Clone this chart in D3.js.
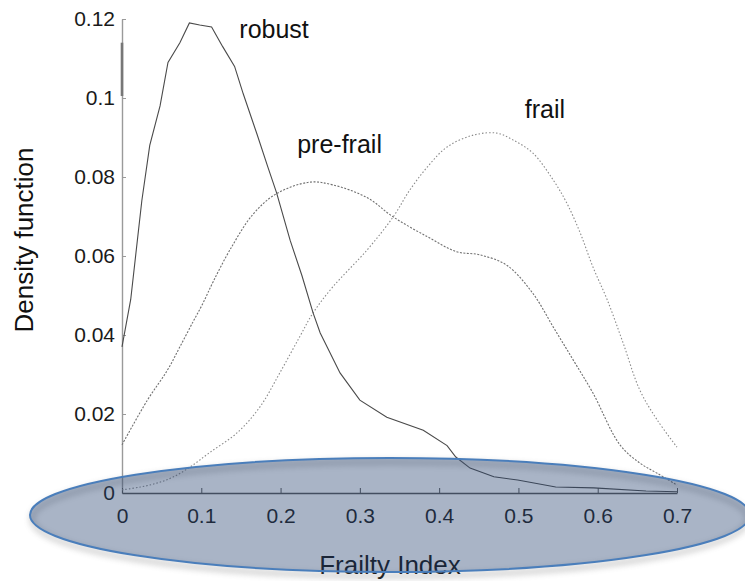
<!DOCTYPE html>
<html>
<head>
<meta charset="utf-8">
<script src="https://cdn.jsdelivr.net/npm/d3@7"></script>
<style>
  html,body{margin:0;padding:0;background:#fff;}
  svg{display:block;font-family:"Liberation Sans",Arial,Helvetica,sans-serif;}
</style>
</head>
<body>
<svg id="chart" width="745" height="581"></svg>
<script>
'use strict';

// values
var robustX=[0,0.011,0.025,0.035,0.048,0.058,0.073,0.085,0.098,0.113,0.127,0.142,0.153,0.170,0.184,0.195,0.212,0.227,0.241,0.250,0.275,0.300,0.334,0.380,0.410,0.421,0.439,0.469,0.499,0.547,0.595,0.661,0.700]
  , robustY=[0.037,0.049,0.074,0.088,0.098,0.109,0.114,0.119,0.1185,0.118,0.113,0.108,0.101,0.091,0.0825,0.076,0.064,0.055,0.0456,0.0405,0.0304,0.0235,0.0192,0.0159,0.012,0.0091,0.0063,0.0041,0.0033,0.0015,0.0013,0.0005,0.0003]
  , preX=[0,0.032,0.057,0.073,0.090,0.102,0.115,0.136,0.165,0.195,0.237,0.266,0.309,0.342,0.385,0.422,0.451,0.485,0.518,0.544,0.569,0.594,0.628,0.653,0.675,0.700]
  , preY=[0.0122,0.0235,0.031,0.037,0.0435,0.048,0.0535,0.0615,0.0705,0.0758,0.0787,0.078,0.0748,0.0699,0.0649,0.0611,0.0603,0.0577,0.0506,0.042,0.0337,0.0253,0.0122,0.0076,0.005,0.002]
  , frailX=[0,0.023,0.044,0.064,0.086,0.111,0.145,0.174,0.199,0.224,0.241,0.266,0.309,0.342,0.363,0.385,0.410,0.443,0.473,0.493,0.518,0.544,0.561,0.578,0.594,0.612,0.632,0.653,0.675,0.700]
  , frailY=[0.0008,0.0015,0.0025,0.004,0.0066,0.0103,0.0152,0.0218,0.0304,0.0395,0.0456,0.0522,0.0615,0.0699,0.0767,0.0825,0.0876,0.0906,0.0911,0.0894,0.0861,0.0792,0.0734,0.0658,0.0572,0.0489,0.038,0.0261,0.0185,0.0116]
  , labelText=['robust','pre-frail','frail']
  , labelX=[0.148,0.221,0.508]
  , labelY=[0.1152,0.0861,0.0949]
  , xTicks=[0,0.1,0.2,0.3,0.4,0.5,0.6,0.7]
  , yTicks=[0,0.02,0.04,0.06,0.08,0.1,0.12];

var svg=d3.select('#chart')
  , x=d3.scaleLinear().domain([0,0.7]).range([122,677])
  , y=d3.scaleLinear().domain([0,0.12]).range([493,19]);

var zip=function(xs,ys){
    return xs.map(function(e,i){ return [e,ys[i]]; });
};

var line=d3.line()
    .x(function(d){ return x(d[0]); })
    .y(function(d){ return y(d[1]); });

var defs=svg.append('defs');
defs.append('filter')
    .attr('id','blur')
    .attr('x','-10%').attr('y','-30%').attr('width','120%').attr('height','160%')
  .append('feGaussianBlur')
    .attr('stdDeviation',3);

// y axis (ticks inward)
var yAxis=svg.append('g')
    .attr('transform','translate('+x(0)+',0)')
    .call(d3.axisLeft(y).tickValues(yTicks).tickSizeInner(-4).tickSizeOuter(0).tickPadding(7)
        .tickFormat(function(d){ return d3.format('')(+d.toFixed(2)); }));
yAxis.select('.domain').attr('stroke','#9a9a9a').attr('stroke-width',1.4);
yAxis.selectAll('.tick line').attr('stroke','#9a9a9a');
yAxis.selectAll('text').attr('font-size',21).attr('fill','#1a1a1a');
// darker stretch on the axis line
svg.append('line')
    .attr('x1',x(0)).attr('x2',x(0))
    .attr('y1',y(0.114)).attr('y2',y(0.1005))
    .attr('stroke','#777').attr('stroke-width',2.6);

// x axis
var xAxis=svg.append('g')
    .attr('transform','translate(0,'+y(0)+')')
    .call(d3.axisBottom(x).tickValues(xTicks).tickSizeInner(-5).tickSizeOuter(0).tickPadding(15)
        .tickFormat(function(d){ return d3.format('')(+d.toFixed(1)); }));
xAxis.select('.domain').attr('stroke','#555').attr('stroke-width',1.4);
xAxis.selectAll('.tick line').attr('stroke','#555');
xAxis.selectAll('text').attr('font-size',21).attr('fill','#1a1a1a');

// curves
svg.append('path')
    .datum(zip(frailX,frailY))
    .attr('d',line.curve(d3.curveCatmullRom))
    .attr('fill','none')
    .attr('stroke','#8a8a8a')
    .attr('stroke-width',1.1)
    .attr('stroke-dasharray','1.5,2');
svg.append('path')
    .datum(zip(preX,preY))
    .attr('d',line.curve(d3.curveCatmullRom))
    .attr('fill','none')
    .attr('stroke','#707070')
    .attr('stroke-width',1.1)
    .attr('stroke-dasharray','2,1.5');
svg.append('path')
    .datum(zip(robustX,robustY))
    .attr('d',line.curve(d3.curveLinear))
    .attr('fill','none')
    .attr('stroke','#4a4a4a')
    .attr('stroke-width',1.1);

svg.selectAll('text.lbl')
    .data(labelText)
  .enter().append('text')
    .attr('class','lbl')
    .attr('x',function(d,i){ return x(labelX[i]); })
    .attr('y',function(d,i){ return y(labelY[i]); })
    .attr('font-size',25)
    .attr('fill','#111')
    .text(function(d){ return d; });

svg.append('text')
    .attr('transform','translate(33,240) rotate(-90)')
    .attr('text-anchor','middle')
    .attr('font-size',26)
    .attr('fill','#111')
    .text('Density function');

svg.append('text')
    .attr('x',390)
    .attr('y',574)
    .attr('text-anchor','middle')
    .attr('font-size',26)
    .attr('fill','#111')
    .text('Frailty Index');

// highlight ellipse with soft shadow
svg.append('ellipse')
    .attr('cx',390).attr('cy',519).attr('rx',358).attr('ry',57)
    .attr('fill','none')
    .attr('stroke','#777')
    .attr('stroke-width',4)
    .attr('opacity',0.45)
    .attr('filter','url(#blur)');
svg.append('ellipse')
    .attr('cx',390).attr('cy',515).attr('rx',360).attr('ry',57)
    .attr('fill','rgb(40,67,112)')
    .attr('fill-opacity',0.4)
    .attr('stroke','#4a7ebb')
    .attr('stroke-width',2);
</script>
</body>
</html>
